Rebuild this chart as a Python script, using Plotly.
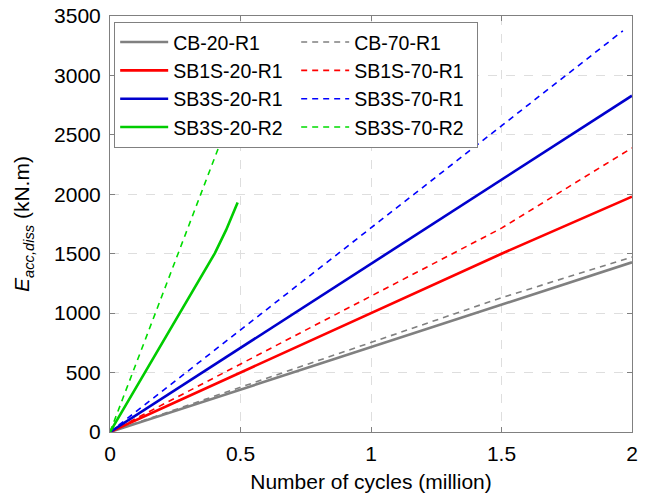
import plotly.graph_objects as go

# accumulated dissipated energy vs cycles
cb20_x = [0, 2.0]
cb20_y = [0, 1428]
cb70_x = [0, 1.5, 2.0]
cb70_y = [0, 1130, 1472]

sb1s20_x = [0, 1.5, 2.0]
sb1s20_y = [0, 1500, 1980]
sb1s70_x = [0, 1.5, 2.0]
sb1s70_y = [0, 1715, 2390]

sb3s20_x = [0, 2.0]
sb3s20_y = [0, 2830]
sb3s70_x = [0, 1.965]
sb3s70_y = [0, 3375]

sb3s20r2_x = [0, 0.402, 0.445, 0.489]
sb3s20r2_y = [0, 1505, 1700, 1930]
sb3s70r2_x = [0, 0.415]
sb3s70r2_y = [0, 2388]

x_ticks = [0, 0.5, 1, 1.5, 2]
y_ticks = [0, 500, 1000, 1500, 2000, 2500, 3000, 3500]

GREY = 'rgb(128,128,128)'
RED = 'rgb(255,0,0)'
BLUE = 'rgb(0,0,205)'
GREEN = 'rgb(0,204,0)'

# order is row-major for the 2-column legend
series = [
    ('CB-20-R1', cb20_x, cb20_y, GREY, 'solid'),
    ('CB-70-R1', cb70_x, cb70_y, GREY, 'dash'),
    ('SB1S-20-R1', sb1s20_x, sb1s20_y, RED, 'solid'),
    ('SB1S-70-R1', sb1s70_x, sb1s70_y, RED, 'dash'),
    ('SB3S-20-R1', sb3s20_x, sb3s20_y, BLUE, 'solid'),
    ('SB3S-70-R1', sb3s70_x, sb3s70_y, 'rgb(0,0,255)', 'dash'),
    ('SB3S-20-R2', sb3s20r2_x, sb3s20r2_y, GREEN, 'solid'),
    ('SB3S-70-R2', sb3s70r2_x, sb3s70r2_y, 'rgb(0,220,0)', 'dash'),
]

fig = go.Figure()
for name, xs, ys, color, dash in series:
    fig.add_trace(go.Scatter(
        x=xs, y=ys, mode='lines', name=name,
        line=dict(color=color, dash='6px,5px' if dash == 'dash' else 'solid',
                  width=2.6 if dash == 'solid' else 1.6),
    ))

FONT = 'Liberation Sans, Arial, sans-serif'

fig.update_layout(
    width=651, height=494,
    margin=dict(l=110, r=19, t=16, b=62),
    paper_bgcolor='white', plot_bgcolor='white',
    font=dict(family=FONT, size=20, color='black'),
    showlegend=True,
    legend=dict(
        orientation='h', x=0.008, y=0.986, xanchor='left', yanchor='top',
        entrywidth=118, entrywidthmode='pixels',
        bgcolor='white', bordercolor=GREY, borderwidth=1,
        font=dict(family=FONT, size=19.5, color='black'),
        tracegroupgap=0, itemwidth=48,
    ),
)

axis_common = dict(
    showline=True, linecolor=GREY, linewidth=1, mirror='ticks',
    ticks='inside', ticklen=5, tickcolor=GREY, automargin=False,
    ticklabeloverflow='allow',
    showgrid=True, gridcolor='rgb(222,222,222)', griddash='dash', gridwidth=1,
    zeroline=False, tickfont=dict(family=FONT, size=21, color='black'),
)

fig.update_xaxes(
    range=[0, 2], tickvals=x_ticks, ticktext=[f'{v:g}' for v in x_ticks],
    title=dict(text='Number of cycles (million)', font=dict(size=21), standoff=10),
    ticklabelstandoff=3,
    **axis_common,
)
fig.update_yaxes(
    range=[0, 3500], tickvals=y_ticks, ticktext=[str(v) for v in y_ticks],
    title=dict(text='<i>E</i><sub><i>acc,diss</i></sub> (kN.m)', font=dict(size=21), standoff=18),
    ticklabelstandoff=4,
    **axis_common,
)

# drop the browser's default 8px body margin so the figure sits at the page corner
fig.write_html('out.html', config={'displayModeBar': False},
               post_script="document.body.style.margin='0';")
